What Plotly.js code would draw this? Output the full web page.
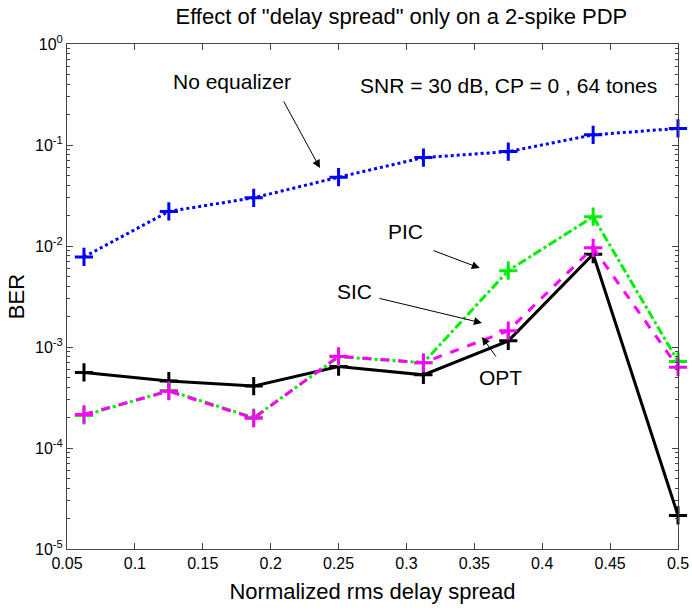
<!DOCTYPE html>
<html>
<head>
<meta charset="utf-8">
<script src="https://cdn.plot.ly/plotly-3.0.1.min.js"></script>
<style>html,body{margin:0;padding:0;background:#fff;}#chart{width:692px;height:611px;}</style>
</head>
<body>
<div id="chart"></div>
<script>
// Data
const delaySpread = [0.0625, 0.125, 0.1875, 0.25, 0.3125, 0.375, 0.4375, 0.5];
const berNoEq = [0.0078, 0.022, 0.030, 0.048, 0.075, 0.086, 0.126, 0.146];
const berOPT  = [5.6e-4, 4.6e-4, 4.1e-4, 6.4e-4, 5.3e-4, 1.15e-3, 8.3e-3, 2.15e-5];
const berPIC  = [2.1e-4, 3.7e-4, 2.0e-4, 8.0e-4, 7.0e-4, 5.7e-3, 1.95e-2, 7.2e-4];
const berSIC  = [2.15e-4, 3.65e-4, 1.97e-4, 8.1e-4, 7.0e-4, 1.45e-3, 9.6e-3, 6.3e-4];
const xTickVals = [0.05, 0.1, 0.15, 0.2, 0.25, 0.3, 0.35, 0.4, 0.45, 0.5];
const xTickText = ['0.05','0.1','0.15','0.2','0.25','0.3','0.35','0.4','0.45','0.5'];
const yTickVals = [1, 0.1, 0.01, 0.001, 0.0001, 0.00001];
const yTickText = ['10<sup>0</sup>','10<sup>-1</sup>','10<sup>-2</sup>','10<sup>-3</sup>','10<sup>-4</sup>','10<sup>-5</sup>'];

const minorVals = [];
for (let e = -5; e < 0; e++) for (let m = 2; m <= 9; m++) minorVals.push(m * Math.pow(10, e));

function series(y, color, dash, name) {
  return {
    x: delaySpread, y: y, name: name, type: 'scatter', mode: 'lines+markers',
    line: {color: color, width: 3, dash: dash},
    marker: {symbol: 'cross-thin-open', size: 13, color: color, line: {color: color, width: 3}},
    cliponaxis: false, showlegend: false
  };
}

const traces = [
  series(berOPT, '#000000', 'solid', 'OPT'),
  series(berPIC, '#00ee00', 'dashdot', 'PIC'),
  series(berSIC, '#ff00ff', 'dash', 'SIC'),
  series(berNoEq, '#0000ff', 'dot', 'No equalizer')
];

const font = {family: 'Liberation Sans, Arial, sans-serif', color: '#000'};
function txt(text, x, ylog, size) {
  return {text: text, x: x, y: ylog, xref: 'x', yref: 'y', showarrow: false,
          font: Object.assign({size: size || 21}, font)};
}
function arrow(x0, y0, x1, y1) {
  return {text: '', x: x1, y: y1, ax: x0, ay: y0, xref: 'x', yref: 'y', axref: 'x', ayref: 'y',
          showarrow: true, arrowhead: 2, arrowsize: 1.6, arrowwidth: 1, arrowcolor: '#000'};
}

const layout = {
  width: 692, height: 611,
  margin: {l: 67, r: 14, t: 44, b: 62},
  paper_bgcolor: '#fff', plot_bgcolor: '#fff',
  font: Object.assign({size: 16}, font),
  title: {text: 'Effect of "delay spread" only on a 2-spike PDP', x: 0.58, xanchor: 'center', y: 0.973, yanchor: 'middle',
          font: Object.assign({size: 22}, font)},
  xaxis: {
    range: [0.05, 0.5], tickmode: 'array', tickvals: xTickVals, ticktext: xTickText,
    ticks: 'inside', ticklen: 6, tickcolor: '#444', showline: true, linecolor: '#444', linewidth: 1,
    mirror: 'ticks', showgrid: false, zeroline: false,
    tickfont: Object.assign({size: 16}, font),
    title: {text: 'Normalized rms delay spread', font: Object.assign({size: 22}, font), standoff: 12}
  },
  yaxis: {
    type: 'log', range: [-5, 0], tickmode: 'array', tickvals: yTickVals, ticktext: yTickText,
    ticks: 'inside', ticklen: 6, tickcolor: '#444', showline: true, linecolor: '#444', linewidth: 1,
    mirror: 'ticks', showgrid: false, zeroline: false,
    minor: {tickmode: 'array', tickvals: minorVals, ticks: 'inside', ticklen: 3, tickcolor: '#444'},
    tickfont: Object.assign({size: 16}, font),
    title: {text: 'BER', font: Object.assign({size: 22}, font), standoff: 4}
  },
  annotations: [
    txt('SNR = 30 dB, CP = 0 , 64 tones', 0.3748, -0.406),
    txt('No equalizer', 0.1715, -0.376),
    arrow(0.209, -0.554, 0.2363, -1.228),
    txt('PIC', 0.299, -1.861),
    arrow(0.3188, -2.04, 0.354, -2.218),
    txt('SIC', 0.262, -2.455),
    arrow(0.279, -2.515, 0.3556, -2.762),
    txt('OPT', 0.3689, -3.297),
    arrow(0.3667, -3.109, 0.3556, -2.901)
  ]
};

Plotly.newPlot('chart', traces, layout, {displayModeBar: false, staticPlot: true});
</script>
</body>
</html>
